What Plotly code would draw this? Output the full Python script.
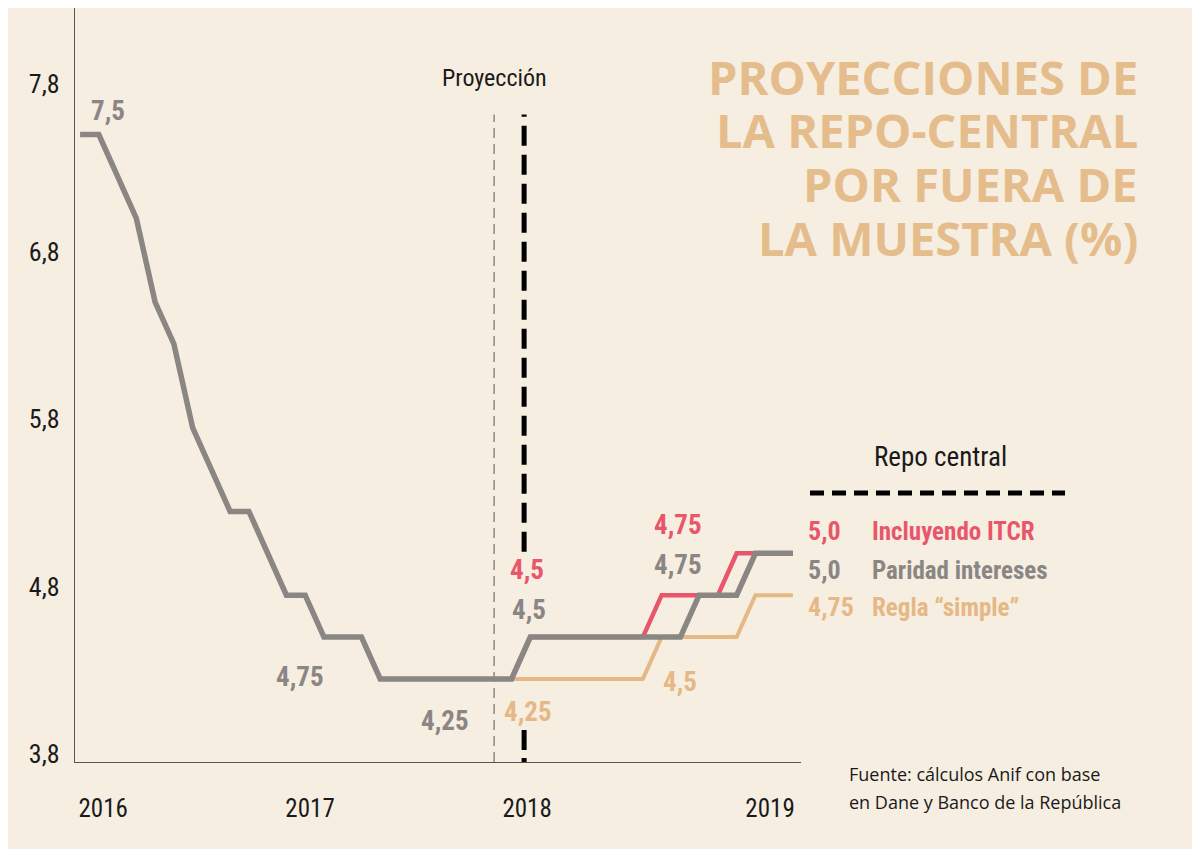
import plotly.graph_objects as go

# month index 0 = dic-2016 ... 38 = fin de la proyeccion
meses = list(range(39))

# repo observada + proyeccion "paridad intereses"
paridad = [7.5, 7.5, 7.25, 7.0, 6.5, 6.25, 5.75, 5.5, 5.25, 5.25,
           5.0, 4.75, 4.75, 4.5, 4.5, 4.5, 4.25, 4.25, 4.25, 4.25,
           4.25, 4.25, 4.25, 4.25, 4.5, 4.5, 4.5, 4.5, 4.5, 4.5,
           4.5, 4.5, 4.5, 4.75, 4.75, 4.75, 5.0, 5.0, 5.0]

# proyecciones alternativas (desde el mes 23)
meses_proy = list(range(23, 39))
itcr = [4.25, 4.5, 4.5, 4.5, 4.5, 4.5, 4.5, 4.5,
        4.75, 4.75, 4.75, 4.75, 5.0, 5.0, 5.0, 5.0]
simple = [4.25, 4.25, 4.25, 4.25, 4.25, 4.25, 4.25, 4.25,
          4.5, 4.5, 4.5, 4.5, 4.5, 4.75, 4.75, 4.75]

# ejes
y_ticks = [3.8, 4.8, 5.8, 6.8, 7.8]
x_tickvals = [1.23, 12.26, 23.83, 36.78]
x_ticktext = ['2016', '2017', '2018', '2019']

inicio_proy = 22.07   # linea fina "Proyeccion"
corte = 23.67         # linea negra repo central

# etiquetas sobre el grafico: texto, x, y, color
etiquetas = [
    ('7,5', 1.49, 7.64, 'gris'),
    ('4,75', 11.73, 4.26, 'gris'),
    ('4,25', 19.46, 4.0, 'gris'),
    ('4,5', 23.83, 4.9, 'rojo'),
    ('4,5', 23.93, 4.66, 'gris'),
    ('4,25', 23.88, 4.05, 'tan'),
    ('4,75', 31.88, 5.17, 'rojo'),
    ('4,75', 31.88, 4.93, 'gris'),
    ('4,5', 31.98, 4.23, 'tan'),
]

colores = {'gris': '#8a8684', 'rojo': '#e8566c', 'tan': '#e6b886'}
fondo = '#f6eee1'
titulo_color = '#e5bd8c'
narrow = 'Roboto Condensed, Liberation Sans Narrow, DejaVu Sans Condensed, sans-serif'

fig = go.Figure()

fig.add_trace(go.Scatter(
    x=meses_proy, y=simple, mode='lines',
    line=dict(color=colores['tan'], width=4), hoverinfo='skip'))
fig.add_trace(go.Scatter(
    x=meses_proy, y=itcr, mode='lines',
    line=dict(color=colores['rojo'], width=4.5), hoverinfo='skip'))
fig.add_trace(go.Scatter(
    x=meses, y=paridad, mode='lines',
    line=dict(color=colores['gris'], width=5.5), hoverinfo='skip'))

# lineas verticales
fig.add_shape(type='line', x0=inicio_proy, x1=inicio_proy, y0=3.754, y1=7.62,
              line=dict(color='#555555', width=1, dash='10px,6px'), layer='below')
fig.add_shape(type='line', x0=corte, x1=corte, y0=5.01, y1=7.62,
              line=dict(color='black', width=5, dash='20px,9px'), layer='below')
fig.add_shape(type='line', x0=corte, x1=corte, y0=3.754, y1=3.95,
              line=dict(color='black', width=5, dash='4px,8px,20px'), layer='below')


# page pixels -> paper coords (plot area: x 75..801, y 8..762 of the page)
def px(xp):
    return (xp - 75) / 726


def py(yp):
    return (762 - yp) / 754


# leyenda dibujada (repo central)
fig.add_shape(type='line', xref='paper', yref='paper',
              x0=px(810), x1=px(1065), y0=py(493), y1=py(493),
              line=dict(color='black', width=5, dash='14px,8px'))

for txt, x, y, c in etiquetas:
    fig.add_annotation(x=x, y=y, text='<b>' + txt + '</b>', showarrow=False,
                       xanchor='center', yanchor='middle',
                       font=dict(family=narrow, size=27, color=colores[c]))

fig.add_annotation(x=inicio_proy, y=7.84, text='Proyección', showarrow=False,
                   xanchor='center', yanchor='middle',
                   font=dict(family=narrow, size=24, color='#1a1a1a'))

# titulo
lineas_titulo = ['PROYECCIONES DE', 'LA REPO-CENTRAL', 'POR FUERA DE', 'LA MUESTRA (%)']
for i, t in enumerate(lineas_titulo):
    fig.add_annotation(xref='paper', yref='paper', x=px(1140), y=py(77 + 53.5 * i),
                       xanchor='right', yanchor='middle', text='<b>' + t + '</b>',
                       showarrow=False,
                       font=dict(family='Open Sans', size=47, color=titulo_color))

# leyenda
fig.add_annotation(xref='paper', yref='paper', x=px(872), y=py(457),
                   xanchor='left', yanchor='middle',
                   text='Repo central', showarrow=False,
                   font=dict(family=narrow, size=27, color='#1a1a1a'))
leyenda = [('5,0', 'Incluyendo ITCR', 'rojo', 531),
           ('5,0', 'Paridad intereses', 'gris', 570),
           ('4,75', 'Regla “simple”', 'tan', 607)]
for num, nombre, c, yy in leyenda:
    fig.add_annotation(xref='paper', yref='paper', x=px(806), y=py(yy),
                       xanchor='left', yanchor='middle',
                       text='<b>' + num + '</b>', showarrow=False,
                       font=dict(family=narrow, size=26, color=colores[c]))
    fig.add_annotation(xref='paper', yref='paper', x=px(870), y=py(yy),
                       xanchor='left', yanchor='middle',
                       text='<b>' + nombre + '</b>', showarrow=False,
                       font=dict(family=narrow, size=25, color=colores[c]))

# fuente
for i, t in enumerate(['Fuente: cálculos Anif con base', 'en Dane y Banco de la República']):
    fig.add_annotation(xref='paper', yref='paper', x=px(847), y=py(774 + 28 * i),
                       xanchor='left', yanchor='middle', text=t, showarrow=False,
                       font=dict(family='Open Sans', size=18, color='#1a1a1a'))

fig.update_xaxes(range=[-0.27, 38.43], tickvals=x_tickvals, ticktext=x_ticktext,
                 showgrid=False, zeroline=False, showline=True, linecolor='#555555',
                 linewidth=1.3, ticks='', ticklabelstandoff=24,
                 tickfont=dict(family=narrow, size=25, color='#1a1a1a'))
fig.update_yaxes(range=[3.754, 8.256], tickvals=y_ticks, tickformat='.1f',
                 showgrid=False, zeroline=False, showline=True, linecolor='#555555',
                 linewidth=1.3, ticks='', ticklabelstandoff=9,
                 tickfont=dict(family=narrow, size=26, color='#1a1a1a'))

# la pagina deja 8 px de margen arriba/izquierda, figura 1192x841
fig.update_layout(
    width=1192, height=841,
    margin=dict(l=67, r=399, t=0, b=87),
    paper_bgcolor=fondo, plot_bgcolor=fondo,
    separators=',.',
    showlegend=False)

fig.write_html("out.html")
